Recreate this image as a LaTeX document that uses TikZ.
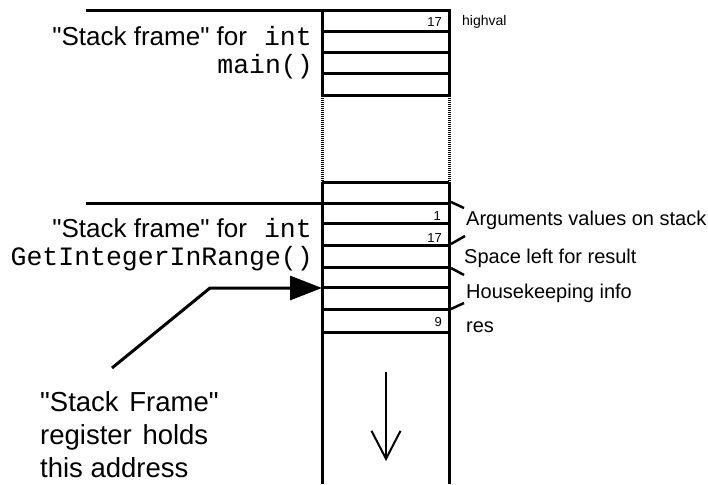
\documentclass[tikz,border=0pt]{standalone}
\usepackage{fontspec}
\setmainfont{Liberation Sans}[Ligatures=TeXOff]
\setmonofont{Liberation Mono}[Ligatures=TeXOff]
\usetikzlibrary{arrows.meta}
\begin{document}
\begin{tikzpicture}[x=1pt,y=-1pt,
  wall/.style={line width=3pt},
  rowline/.style={line width=3pt},
  gapwall/.style={line width=3pt, dash pattern=on 1pt off 1pt},
  tick/.style={line width=2.5pt},
  framelbl/.style={font=\fontsize{26}{30}\selectfont, inner sep=0pt, anchor=base east},
  framecode/.style={font=\fontsize{26.5}{30}\selectfont\ttfamily, inner sep=0pt, anchor=base east},
  note/.style={font=\fontsize{20}{24}\selectfont, inner sep=0pt, anchor=base west},
  cellval/.style={font=\fontsize{13}{15}\selectfont, inner sep=0pt, anchor=base east},
  regtext/.style={font=\fontsize{27.5}{33}\selectfont, inner sep=0pt, anchor=base west},
  ptr/.style={line width=3pt, -{Triangle[length=32pt,width=24pt]}, shorten >=-1pt},
  growth/.style={line width=2pt, -{Straight Barb[length=28pt,width=29pt,line width=2pt]}}]
\useasboundingbox (0,0) rectangle (708,484);

% stack walls and cell boundaries
\coordinate (TL) at (322,9.5);
\coordinate (TR) at (449,9.5);
\draw[wall] (TL) -- (322,96) (TR) -- (449,96);
\draw[gapwall] (322,96) -- (322,182) (449,96) -- (449,182);
\draw[wall] (322,182) -- (322,484) (449,182) -- (449,484);

% frame dividers running out to the left
\draw[rowline] (86,11) -- (450.5,11);
\draw[rowline] (86,203) -- (450.5,203);

% cells of main()
\foreach \y in {32,53,74,96}
  \draw[rowline] (322,\y) -- (449,\y);
% cells of GetIntegerInRange()
\foreach \y in {182,223,245,267,287,309,332}
  \draw[rowline] (322,\y) -- (449,\y);

% values held in cells
\node[cellval] (v17a) at (442,27) {17};
\node[cellval] (v1) at (441,220) {1};
\node[cellval] (v17b) at (442,242) {17};
\node[cellval] (v9) at (442,326) {9};
\node[font=\fontsize{14}{16}\selectfont, inner sep=0pt, anchor=base west] (hv) at (462,26) {highval};

% range ticks and their notes
\draw[tick] (451,202) -- (464,208);
\draw[tick] (451,244) -- (465,236);
\draw[tick] (451,268) -- (464,275);
\draw[tick] (451,309) -- (464,303);
\node[note] (args) at (466,225) {Arguments values on stack};
\node[note] (space) at (464,263) {Space left for result};
\node[note] (house) at (466,298) {Housekeeping info};
\node[note] (res) at (466,332) {res};

% frame captions
\node[framelbl] (mainA) at (312,46) {"Stack frame" for\hspace{17pt}{\fontsize{26.5}{30}\selectfont\ttfamily int}};
\node[framecode] (mainB) at (313,74) {main()};
\node[framelbl] (getA) at (312,237) {"Stack frame" for\hspace{17pt}{\fontsize{26.5}{30}\selectfont\ttfamily int}};
\node[framecode] (getB) at (313,265) {GetIntegerInRange()};

% frame pointer register
\node[regtext] (reg1) at (40,411) {"Stack\hspace{3pt} Frame"};
\node[regtext] (reg2) at (40,444) {register\hspace{3pt} holds};
\node[regtext] (reg3) at (40,477) {this address};
\coordinate (ptrstart) at (112,368);
\coordinate (ptrbend) at (210,288);
\coordinate (fp) at (321,288);
\draw[ptr] (ptrstart) -- (ptrbend) -- (fp);

% direction of growth
\coordinate (gtop) at (386,372);
\coordinate (gbot) at (386,461);
\draw[growth] (gtop) -- (gbot);
\end{tikzpicture}
\end{document}
